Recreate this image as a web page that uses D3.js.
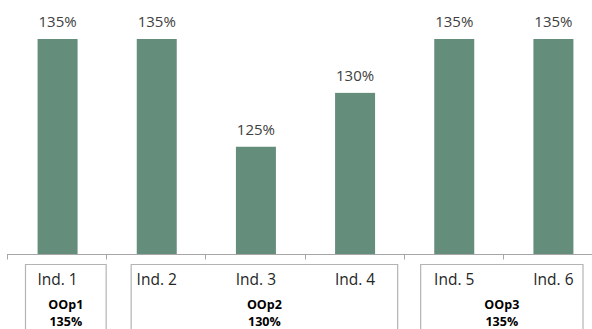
<!DOCTYPE html>
<html>
<head>
<meta charset="utf-8">
<script src="https://cdn.jsdelivr.net/npm/d3@7"></script>
<style>
  html, body { margin: 0; padding: 0; background: #fff; }
  svg { display: block; font-family: "Open Sans", "Noto Sans", sans-serif; }
</style>
</head>
<body>
<svg id="chart" width="592" height="329"></svg>
<script>
// Indicator values (percent)
const categories = ["Ind. 1", "Ind. 2", "Ind. 3", "Ind. 4", "Ind. 5", "Ind. 6"];
const values = [135, 135, 125, 130, 135, 135];

// Operational objective groups spanning the indicators
const groupNames = ["OOp1", "OOp2", "OOp3"];
const groupValues = [135, 130, 135];
const groupFirst = [0, 1, 4];
const groupLast = [0, 3, 5];

const svg = d3.select("#chart");
const baseY = 254.5;

const x = d3.scaleBand()
  .domain(categories)
  .range([7, 602])
  .padding(0);

const y = d3.scaleLinear()
  .domain([115, 135])
  .range([baseY, 39]);

const barW = 40;
const barColor = "#658d7b";
const gridColor = "#a6a6a6";

// bars
svg.append("g").selectAll("rect")
  .data(values)
  .join("rect")
  .attr("x", (d, i) => x(categories[i]) + x.bandwidth() / 2 - barW / 2 + 1)
  .attr("y", d => y(d))
  .attr("width", barW)
  .attr("height", d => baseY - y(d))
  .attr("fill", barColor);

// value labels
svg.append("g").selectAll("text")
  .data(values)
  .join("text")
  .attr("x", (d, i) => x(categories[i]) + x.bandwidth() / 2 + 1)
  .attr("y", d => y(d) - 11.7)
  .attr("text-anchor", "middle")
  .attr("font-size", 15)
  .attr("fill", "#404040")
  .text(d => d + "%");

// category axis
const axis = svg.append("g");
axis.append("line")
  .attr("x1", x.range()[0]).attr("x2", 592)
  .attr("y1", baseY).attr("y2", baseY)
  .attr("stroke", gridColor).attr("stroke-width", 1.2);
axis.selectAll("line.tick")
  .data(categories)
  .join("line")
  .attr("class", "tick")
  .attr("x1", d => Math.round(x(d)) + 0.5)
  .attr("x2", d => Math.round(x(d)) + 0.5)
  .attr("y1", baseY).attr("y2", baseY + 5)
  .attr("stroke", gridColor);

axis.selectAll("text.cat")
  .data(categories)
  .join("text")
  .attr("class", "cat")
  .attr("x", d => x(d) + x.bandwidth() / 2 + 1)
  .attr("y", 285)
  .attr("text-anchor", "middle")
  .attr("font-size", 15.5)
  .attr("fill", "#262626")
  .text(d => d);

// group boxes with their labels
const insets = [[18.5, 0], [25, 6], [17, 19]];
const groups = svg.append("g");
groupNames.forEach((name, g) => {
  const x0 = x(categories[groupFirst[g]]) + insets[g][0];
  const x1 = x(categories[groupLast[g]]) + x.bandwidth() - insets[g][1];
  groups.append("path")
    .attr("d", `M${x0},335V264.5H${x1}V335`)
    .attr("fill", "none")
    .attr("stroke", "#b4b4b4")
    .attr("stroke-width", 1.2);
  const cx = (x0 + x1) / 2;
  groups.append("text")
    .attr("x", cx).attr("y", 309)
    .attr("text-anchor", "middle")
    .attr("font-size", 12.5).attr("font-weight", "bold")
    .attr("fill", "#000")
    .text(name);
  groups.append("text")
    .attr("x", cx).attr("y", 326)
    .attr("text-anchor", "middle")
    .attr("font-size", 12.5).attr("font-weight", "bold")
    .attr("fill", "#000")
    .text(groupValues[g] + "%");
});
</script>
</body>
</html>
